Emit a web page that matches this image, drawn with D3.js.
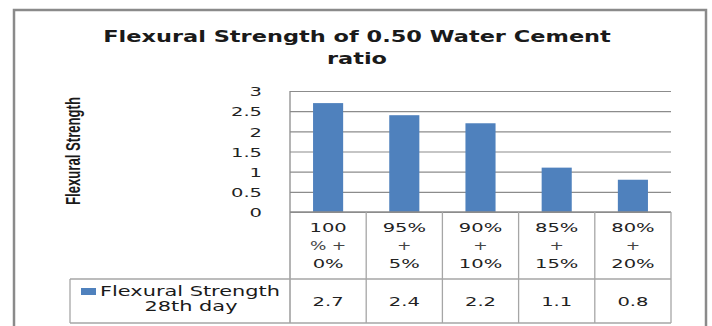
<!DOCTYPE html>
<html>
<head>
<meta charset="utf-8">
<script src="https://cdn.jsdelivr.net/npm/d3@7"></script>
<style>
  html, body { margin: 0; padding: 0; background: #fff; }
  svg { display: block; }
</style>
</head>
<body>
<svg id="chart" width="712" height="326"></svg>
<script>
// Mix proportions (cement % + replacement %), each split over three table lines
const categories = ["100% + 0%", "95% + 5%", "90% + 10%", "85% + 15%", "80% + 20%"];
const categoryLines = [
  ["100", "% +", "0%"],
  ["95%", "+", "5%"],
  ["90%", "+", "10%"],
  ["85%", "+", "15%"],
  ["80%", "+", "20%"]
];
const seriesName = ["Flexural Strength", "28th day"];
const flexural28 = [2.7, 2.4, 2.2, 1.1, 0.8];
const yTicks = [0, 0.5, 1, 1.5, 2, 2.5, 3];
const titleLines = ["Flexural Strength of 0.50 Water Cement", "ratio"];
const yTitle = "Flexural Strength";

const svg = d3.select("#chart");
const tableFont = "'DejaVu Sans', Verdana, sans-serif";
const barColor = "#4f81bd";
const gridColor = "#8c8c8c";
const tableColor = "#a6a6a6";
const wide = 1.5; // horizontal stretch of the table lettering

// Text placed at (x, y) and stretched horizontally around its anchor
function wideText(g, x, y, str, sx, size) {
  return g.append("text")
    .attr("transform", `translate(${x},${y}) scale(${sx},1)`)
    .attr("font-size", size)
    .text(str);
}

// Outer chart frame
svg.append("rect")
  .attr("x", 14).attr("y", 10)
  .attr("width", 692).attr("height", 330)
  .attr("fill", "#fff")
  .attr("stroke", "#8a8a8a").attr("stroke-width", 2.5);

// Layout of plot and data table
const plot = { left: 290, right: 671, top: 91, bottom: 212 };
const table = { legendLeft: 70, rowMid: 279, bottom: 323 };

const x = d3.scaleBand()
  .domain(categories)
  .range([plot.left, plot.right])
  .paddingInner(0.605)
  .paddingOuter(0.3025);

const y = d3.scaleLinear()
  .domain([0, 3])
  .range([plot.bottom, plot.top]);

// Title, both lines with the same stretch
const title = svg.append("g")
  .attr("font-family", "'DejaVu Sans', Verdana, sans-serif")
  .attr("font-weight", "bold")
  .attr("fill", "#1a1a1a")
  .attr("text-anchor", "middle");
const t1 = wideText(title, 357, 42, titleLines[0], 1, 16.5);
const tSx = 508 / t1.node().getComputedTextLength();
t1.attr("transform", `translate(357,42) scale(${tSx},1)`);
wideText(title, 357, 64, titleLines[1], tSx, 16.5);

// Horizontal gridlines and tick labels
const yAxis = d3.axisLeft(y)
  .tickValues(yTicks)
  .tickSize(-(plot.right - plot.left))
  .tickPadding(28)
  .tickFormat(d => String(d));

const yg = svg.append("g")
  .attr("transform", `translate(${plot.left},0)`)
  .call(yAxis);
yg.select(".domain").remove();
yg.selectAll(".tick line")
  .attr("stroke", gridColor).attr("stroke-width", 1.2);
yg.selectAll(".tick text")
  .attr("font-family", tableFont)
  .attr("font-size", 13)
  .attr("fill", "#222")
  .attr("x", -28 / wide)
  .attr("transform", `scale(${wide},1)`)
  .attr("dy", "0.36em");

// Y axis title (narrow bold, rotated)
svg.append("text")
  .attr("transform", "translate(80,151) rotate(-90)")
  .attr("text-anchor", "middle")
  .attr("font-family", "'Liberation Sans Narrow', 'Liberation Sans', Arial, sans-serif")
  .attr("font-weight", "bold")
  .attr("font-size", 20)
  .attr("fill", "#1a1a1a")
  .attr("textLength", 108).attr("lengthAdjust", "spacingAndGlyphs")
  .text(yTitle);

// Bars
svg.append("g").selectAll("rect")
  .data(flexural28)
  .join("rect")
  .attr("x", (d, i) => x(categories[i]))
  .attr("y", d => y(d))
  .attr("width", x.bandwidth())
  .attr("height", d => y(0) - y(d))
  .attr("fill", barColor);

// Data table grid
const grid = svg.append("g")
  .attr("stroke", tableColor).attr("stroke-width", 1.3).attr("fill", "none");
grid.append("line")
  .attr("x1", plot.left).attr("x2", plot.left)
  .attr("y1", plot.top).attr("y2", table.bottom)
  .attr("stroke", gridColor);
grid.append("line")
  .attr("x1", plot.left).attr("x2", plot.right)
  .attr("y1", plot.bottom).attr("y2", plot.bottom)
  .attr("stroke", gridColor);
grid.append("line")
  .attr("x1", table.legendLeft).attr("x2", plot.right)
  .attr("y1", table.rowMid).attr("y2", table.rowMid);
grid.append("line")
  .attr("x1", table.legendLeft).attr("x2", plot.right)
  .attr("y1", table.bottom).attr("y2", table.bottom);
grid.append("line")
  .attr("x1", table.legendLeft).attr("x2", table.legendLeft)
  .attr("y1", table.rowMid).attr("y2", table.bottom);
categories.forEach((c) => {
  const xr = x(c) + x.bandwidth() / 2 + x.step() / 2;
  grid.append("line")
    .attr("x1", xr).attr("x2", xr)
    .attr("y1", plot.bottom).attr("y2", table.bottom);
});

// Category header cells
const cat = svg.append("g")
  .attr("font-family", tableFont)
  .attr("fill", "#222")
  .attr("text-anchor", "middle");
const lineY = [232, 250, 268];
categoryLines.forEach((lines, i) => {
  const cx = x(categories[i]) + x.bandwidth() / 2;
  lines.forEach((t, j) => {
    wideText(cat, cx, lineY[j], t, wide, j === 1 ? 11.5 : 13)
      .attr("fill", j === 1 ? "#444" : "#222");
  });
});

// Value row
flexural28.forEach((d, i) => {
  wideText(cat, x(categories[i]) + x.bandwidth() / 2, 306, d.toFixed(1), wide, 13);
});

// Legend cell
svg.append("rect")
  .attr("x", 81).attr("y", 288)
  .attr("width", 15).attr("height", 7)
  .attr("fill", barColor);
const leg = svg.append("g")
  .attr("font-family", tableFont)
  .attr("fill", "#1a1a1a")
  .attr("text-anchor", "middle");
const l1 = wideText(leg, 190, 296, seriesName[0], 1, 14);
const lSx = 180 / l1.node().getComputedTextLength();
l1.attr("transform", `translate(190,296) scale(${lSx},1)`);
wideText(leg, 191, 311, seriesName[1], lSx, 14);
</script>
</body>
</html>
